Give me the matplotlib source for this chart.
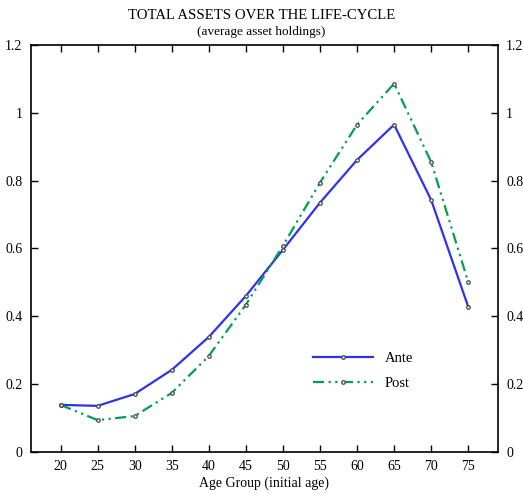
import matplotlib
matplotlib.use('Agg')
import matplotlib.pyplot as plt

plt.rcParams['font.family'] = ['Liberation Serif', 'DejaVu Serif']

# data
ages = [20, 25, 30, 35, 40, 45, 50, 55, 60, 65, 70, 75]
ante = [0.139, 0.136, 0.171, 0.242, 0.339, 0.460, 0.596, 0.735, 0.861, 0.965, 0.743, 0.428]
post = [0.139, 0.094, 0.106, 0.174, 0.283, 0.434, 0.608, 0.794, 0.965, 1.086, 0.855, 0.501]
yticks = [0, 0.2, 0.4, 0.6, 0.8, 1.0, 1.2]
ylabels = ['0', '0.2', '0.4', '0.6', '0.8', '1', '1.2']

fig = plt.figure(figsize=(5.23, 4.94), dpi=100)
ax = fig.add_axes([0.059, 0.085, 0.893, 0.824])

ax.plot(ages, ante, color='#3030f0', lw=1.6, marker='o', ms=2.5,
        mfc='white', mec='#444444', mew=0.9, label='Ante')
ax.plot(ages, post, color='#00a050', lw=1.6, ls=(0, (5, 2, 1, 2, 1, 2)),
        marker='o', ms=2.5, mfc='white', mec='#444444', mew=0.9, label='Post')

ax.set_xlim(16, 79)
ax.set_ylim(0, 1.2)
ax.set_xticks(ages)
ax.set_yticks(yticks)
ax.set_yticklabels(ylabels)
ax.tick_params(direction='in', top=True, right=True, labelright=True,
               labelsize=10, length=5, width=1, pad=6)
for s in ax.spines.values():
    s.set_linewidth(1.2)

ax.set_xlabel('Age Group (initial age)', fontsize=10, labelpad=2)
fig.text(0.5, 0.969, 'TOTAL ASSETS OVER THE LIFE-CYCLE', ha='center', va='center', fontsize=10.6)
fig.text(0.5, 0.935, '(average asset holdings)', ha='center', va='center', fontsize=9.5)

ax.legend(loc='center left', bbox_to_anchor=(0.576, 0.20), frameon=False,
          numpoints=1, handlelength=4.1, labelspacing=0.8, fontsize=10.5,
          handletextpad=0.8)

fig.savefig('out.png', dpi=100)
